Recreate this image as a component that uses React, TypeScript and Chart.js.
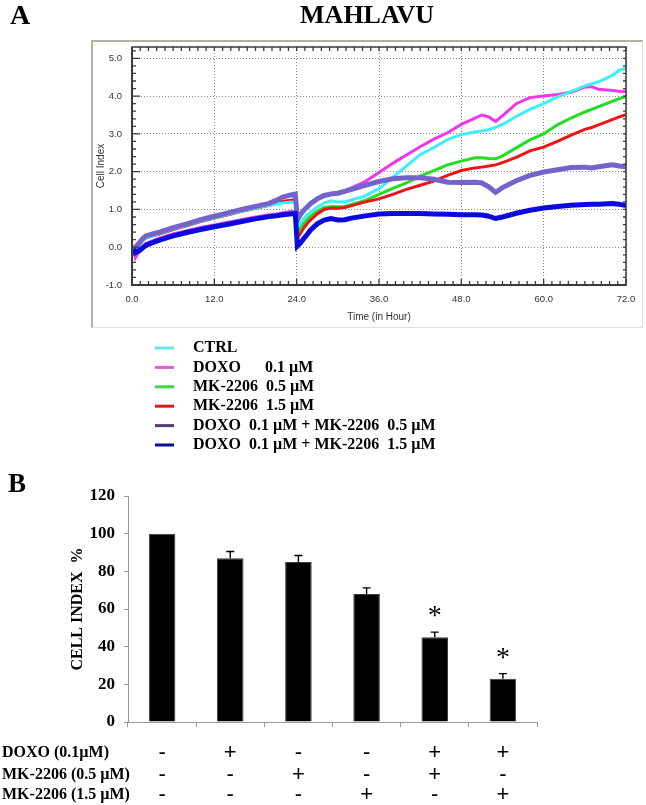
import React, { useEffect, useRef } from 'react';
import { Chart, registerables } from 'chart.js';

Chart.register(...registerables);

// ---------- Panel A data (xCELLigence real-time cell index) ----------
const TIME_H = [0.2, 0.5, 1, 1.5, 2, 3, 4, 6, 8, 10, 12, 14, 16, 18, 20, 21, 22, 23, 23.8, 24.1, 24.5, 25, 25.5, 26, 27, 28, 29, 30, 31, 32, 34, 36, 38, 40, 42, 44, 46, 48, 50, 51, 52, 53, 54, 56, 58, 60, 62, 64, 66, 67, 68, 70, 71, 72];

const CTRL = [-0.02, -0.05, 0.04, 0.16, 0.24, 0.3, 0.36, 0.48, 0.58, 0.69, 0.78, 0.87, 0.96, 1.04, 1.11, 1.14, 1.17, 1.19, 1.2, 0.5, 0.62, 0.75, 0.85, 0.93, 1.06, 1.17, 1.23, 1.2, 1.2, 1.25, 1.36, 1.55, 1.85, 2.15, 2.45, 2.64, 2.85, 2.98, 3.05, 3.08, 3.11, 3.17, 3.25, 3.46, 3.65, 3.8, 3.98, 4.12, 4.27, 4.32, 4.38, 4.55, 4.68, 4.74];
const DOXO_01 = [-0.05, -0.28, -0.12, 0.0, 0.1, 0.17, 0.24, 0.35, 0.44, 0.52, 0.59, 0.66, 0.73, 0.8, 0.86, 0.88, 0.91, 0.94, 0.95, 0.72, 0.85, 0.95, 1.05, 1.13, 1.26, 1.35, 1.4, 1.44, 1.5, 1.57, 1.74, 1.98, 2.22, 2.44, 2.66, 2.86, 3.03, 3.25, 3.42, 3.5, 3.45, 3.33, 3.48, 3.8, 3.96, 4.0, 4.04, 4.1, 4.24, 4.25, 4.18, 4.15, 4.13, 4.12];
const MK_05 = [-0.02, -0.06, 0.05, 0.17, 0.25, 0.31, 0.36, 0.48, 0.58, 0.69, 0.78, 0.87, 0.96, 1.04, 1.12, 1.17, 1.21, 1.24, 1.25, 0.38, 0.5, 0.62, 0.73, 0.82, 0.95, 1.05, 1.08, 1.07, 1.08, 1.13, 1.24, 1.4, 1.56, 1.7, 1.88, 2.03, 2.18, 2.28, 2.37, 2.37, 2.35, 2.34, 2.42, 2.63, 2.84, 3.0, 3.24, 3.42, 3.58, 3.65, 3.72, 3.86, 3.93, 3.99];
const MK_15 = [-0.03, -0.1, 0.03, 0.16, 0.24, 0.3, 0.35, 0.47, 0.57, 0.68, 0.77, 0.86, 0.95, 1.03, 1.11, 1.16, 1.21, 1.24, 1.26, 0.25, 0.35, 0.5, 0.62, 0.72, 0.88, 1.0, 1.04, 1.03, 1.05, 1.1, 1.2, 1.28, 1.4, 1.53, 1.64, 1.75, 1.9, 2.03, 2.1, 2.12, 2.15, 2.18, 2.24, 2.38, 2.55, 2.65, 2.8, 2.97, 3.12, 3.17, 3.24, 3.38, 3.45, 3.51];
const DOXO_MK_05 = [0.0, 0.0, 0.1, 0.22, 0.3, 0.35, 0.4, 0.52, 0.62, 0.73, 0.82, 0.91, 1.0, 1.08, 1.16, 1.24, 1.33, 1.38, 1.41, 0.72, 0.85, 0.97, 1.06, 1.15, 1.28, 1.37, 1.41, 1.43, 1.48, 1.53, 1.64, 1.74, 1.81, 1.84, 1.84, 1.8, 1.72, 1.71, 1.72, 1.7, 1.6, 1.45, 1.58, 1.76, 1.9, 1.99, 2.05, 2.11, 2.12, 2.1, 2.13, 2.18, 2.15, 2.13];
const DOXO_MK_15 = [-0.05, -0.14, -0.1, -0.03, 0.05, 0.12, 0.19, 0.3, 0.39, 0.47, 0.54, 0.61, 0.68, 0.75, 0.81, 0.83, 0.86, 0.88, 0.89, 0.03, 0.1, 0.22, 0.33, 0.45, 0.62, 0.72, 0.76, 0.72, 0.73, 0.77, 0.83, 0.88, 0.89, 0.89, 0.89, 0.88, 0.87, 0.86, 0.86, 0.85, 0.82, 0.76, 0.8, 0.9, 0.98, 1.04, 1.08, 1.11, 1.13, 1.14, 1.14, 1.16, 1.14, 1.1];

const LEGEND_LABELS = [
  'CTRL',
  'DOXO      0.1 µM',
  'MK-2206  0.5 µM',
  'MK-2206  1.5 µM',
  'DOXO  0.1 µM + MK-2206  0.5 µM',
  'DOXO  0.1 µM + MK-2206  1.5 µM',
];

const X_TICKS_H = [0, 12, 24, 36, 48, 60, 72];

// ---------- Panel B data ----------
const CONDITIONS = ['CTRL', 'DOXO', 'MK 0.5', 'MK 1.5', 'DOXO+MK 0.5', 'DOXO+MK 1.5'];
const CELL_INDEX_PCT = [100, 87, 85, 68, 45, 23];
const CELL_INDEX_ERR = [0, 3.5, 3.4, 3.2, 2.7, 2.7];
const SIGNIFICANT = [false, false, false, false, true, true];
const ROW_LABELS = ['DOXO (0.1µM)', 'MK-2206 (0.5 µM)', 'MK-2206 (1.5 µM)'];
const DOXO_SIGNS = ['-', '+', '-', '-', '+', '+'];
const MK05_SIGNS = ['-', '-', '+', '-', '+', '-'];
const MK15_SIGNS = ['-', '-', '-', '+', '-', '+'];

const SERIES = [CTRL, DOXO_01, MK_05, MK_15, DOXO_MK_05, DOXO_MK_15];
const LINE_COLORS = ['#3cf0f6', '#f036ec', '#22dd22', '#ee1414', '#7563cc', '#0a0ae0'];
const LEGEND_COLORS = ['#5ee8ee', '#e85ad0', '#3adb3a', '#d81a1a', '#553a77', '#0c0c96'];
const LINE_WIDTHS = [3, 3, 3, 3, 5, 5];
const DRAW_ORDER = [2, 5, 4, 3, 1, 0];

const SERIF = '"Liberation Serif", "Times New Roman", serif';
const SANS = '"Liberation Sans", Arial, sans-serif';

const panelAPlugin = {
  id: 'panelADecor',
  beforeDraw(chart: any) {
    const ctx = chart.ctx;
    ctx.save();
    ctx.fillStyle = '#ffffff';
    ctx.fillRect(0, 0, chart.width, chart.height);
    // software window frame
    ctx.strokeStyle = '#b2b2a4';
    ctx.lineWidth = 2;
    ctx.beginPath();
    ctx.moveTo(92, 328);
    ctx.lineTo(92, 41);
    ctx.lineTo(643, 41);
    ctx.stroke();
    ctx.strokeStyle = '#e2e2da';
    ctx.lineWidth = 1;
    ctx.beginPath();
    ctx.moveTo(642.5, 41);
    ctx.lineTo(642.5, 327.5);
    ctx.lineTo(92, 327.5);
    ctx.stroke();
    // titles
    ctx.fillStyle = '#000';
    ctx.textBaseline = 'middle';
    ctx.font = `bold 28px ${SERIF}`;
    ctx.textAlign = 'left';
    ctx.fillText('A', 10, 17);
    ctx.font = `bold 26px ${SERIF}`;
    ctx.textAlign = 'center';
    ctx.fillText('MAHLAVU', 367, 16);
    ctx.restore();
  },
  afterDraw(chart: any) {
    const ctx = chart.ctx;
    const { left, right, top, bottom } = chart.chartArea;
    const xs = chart.scales.x;
    const ys = chart.scales.y;
    ctx.save();
    // plot box
    ctx.strokeStyle = '#3a3a3a';
    ctx.lineWidth = 1.5;
    ctx.strokeRect(left, top, right - left, bottom - top);
    ctx.lineWidth = 2;
    ctx.beginPath();
    ctx.moveTo(left, top);
    ctx.lineTo(left, bottom);
    ctx.lineTo(right, bottom);
    ctx.stroke();
    // inward ticks
    ctx.lineWidth = 1.3;
    ctx.beginPath();
    for (let i = 0; i <= 60; i++) {
      const h = i * 1.2;
      const px = xs.getPixelForValue(h);
      const major = i % 10 === 0;
      const len = major ? 6 : 4;
      ctx.moveTo(px, bottom);
      ctx.lineTo(px, bottom - len);
      ctx.moveTo(px, top);
      ctx.lineTo(px, top + 4);
    }
    for (let i = 0; i <= 31; i++) {
      const v = -1 + i * 0.2;
      const py = ys.getPixelForValue(v);
      const major = i % 5 === 0;
      ctx.moveTo(left, py);
      ctx.lineTo(left + (major ? 8 : 4), py);
      ctx.moveTo(right, py);
      ctx.lineTo(right - 3, py);
    }
    ctx.stroke();
    // legend
    ctx.font = `bold 16px ${SERIF}`;
    ctx.textAlign = 'left';
    ctx.textBaseline = 'middle';
    LEGEND_LABELS.forEach((lab, i) => {
      const y = 348 + i * 19.4;
      ctx.strokeStyle = LEGEND_COLORS[i];
      ctx.lineWidth = 3;
      ctx.beginPath();
      ctx.moveTo(155, y);
      ctx.lineTo(174, y);
      ctx.stroke();
      ctx.fillStyle = '#000';
      ctx.fillText(lab, 193, y);
    });
    ctx.restore();
  },
};

const panelBPlugin = {
  id: 'panelBDecor',
  beforeDraw(chart: any) {
    const ctx = chart.ctx;
    ctx.save();
    ctx.fillStyle = '#ffffff';
    ctx.fillRect(0, 0, chart.width, chart.height);
    ctx.restore();
  },
  afterDatasetsDraw(chart: any) {
    const ctx = chart.ctx;
    const xs = chart.scales.x;
    const ys = chart.scales.y;
    ctx.save();
    ctx.strokeStyle = '#000';
    ctx.lineWidth = 1.4;
    CELL_INDEX_PCT.forEach((v, i) => {
      const e = CELL_INDEX_ERR[i];
      const px = xs.getPixelForValue(i);
      if (e > 0) {
        const y0 = ys.getPixelForValue(v);
        const y1 = ys.getPixelForValue(v + e);
        ctx.beginPath();
        ctx.moveTo(px, y0);
        ctx.lineTo(px, y1);
        ctx.moveTo(px - 4, y1);
        ctx.lineTo(px + 4, y1);
        ctx.stroke();
      }
      if (SIGNIFICANT[i]) {
        const yc = ys.getPixelForValue(v + e);
        ctx.fillStyle = '#000';
        ctx.font = `28px ${SERIF}`;
        ctx.textAlign = 'center';
        ctx.textBaseline = 'alphabetic';
        ctx.fillText('*', px, yc - 8);
      }
    });
    ctx.restore();
  },
  afterDraw(chart: any) {
    const ctx = chart.ctx;
    const xs = chart.scales.x;
    ctx.save();
    ctx.fillStyle = '#000';
    ctx.textBaseline = 'middle';
    ctx.font = `bold 27px ${SERIF}`;
    ctx.textAlign = 'left';
    ctx.fillText('B', 8, 20);
    const rowsY = [288, 310, 330];
    const rows = [DOXO_SIGNS, MK05_SIGNS, MK15_SIGNS];
    rows.forEach((signs, r) => {
      ctx.font = `bold 16px ${SERIF}`;
      ctx.textAlign = 'left';
      ctx.fillText(ROW_LABELS[r], 2, rowsY[r]);
      ctx.font = `22px ${SANS}`;
      ctx.textAlign = 'center';
      signs.forEach((s, i) => {
        ctx.fillText(s, xs.getPixelForValue(i), rowsY[r]);
      });
    });
    ctx.restore();
  },
};

export default function App() {
  const refA = useRef<HTMLCanvasElement | null>(null);
  const refB = useRef<HTMLCanvasElement | null>(null);

  useEffect(() => {
    if (!refA.current || !refB.current) return;
    const chartA = new Chart(refA.current, {
      type: 'line',
      data: {
        datasets: SERIES.map((vals, k) => ({
          label: LEGEND_LABELS[k],
          data: TIME_H.map((t, i) => ({ x: t, y: vals[i] })),
          borderColor: LINE_COLORS[k],
          backgroundColor: LINE_COLORS[k],
          borderWidth: LINE_WIDTHS[k],
          pointRadius: 0,
          tension: 0,
          fill: false,
          order: DRAW_ORDER[k],
        })),
      },
      options: {
        responsive: false,
        animation: false,
        layout: { padding: { left: 0, top: 47, right: 20, bottom: 140 } },
        plugins: { legend: { display: false }, tooltip: { enabled: false }, title: { display: false } },
        scales: {
          x: {
            type: 'linear',
            min: 0,
            max: 72,
            afterBuildTicks: (s: any) => {
              s.ticks = X_TICKS_H.map((v) => ({ value: v }));
            },
            ticks: {
              callback: (v: any) => Number(v).toFixed(1),
              font: { family: SANS, size: 9.5 },
              color: '#333',
              padding: 9,
              maxRotation: 0,
              autoSkip: false,
            },
            grid: { color: '#8a8a8a', lineWidth: 1, drawTicks: false },
            border: { display: false, dash: [1, 2] },
            title: {
              display: true,
              text: 'Time (in Hour)',
              font: { family: SANS, size: 10 },
              color: '#333',
              padding: { top: 0, bottom: 2 },
            },
            afterFit: (s: any) => {
              s.height = 40;
            },
          },
          y: {
            type: 'linear',
            min: -1,
            max: 5.3,
            afterBuildTicks: (s: any) => {
              s.ticks = s.ticks.filter((t: any) => Math.abs(t.value - Math.round(t.value)) < 1e-6);
            },
            ticks: {
              stepSize: 1,
              callback: (v: any) => Number(v).toFixed(1),
              font: { family: SANS, size: 9.5 },
              color: '#333',
              padding: 10,
            },
            grid: { color: '#8a8a8a', lineWidth: 1, drawTicks: false },
            border: { display: false, dash: [1, 2] },
            title: {
              display: true,
              text: 'Cell Index',
              font: { family: SANS, size: 10 },
              color: '#333',
              padding: { top: 95, bottom: 0 },
            },
            afterFit: (s: any) => {
              s.width = 132;
            },
          },
        },
      } as any,
      plugins: [panelAPlugin],
    });

    const chartB = new Chart(refB.current, {
      type: 'bar',
      data: {
        labels: CONDITIONS,
        datasets: [
          {
            data: CELL_INDEX_PCT,
            backgroundColor: '#000000',
            borderColor: '#3c3c3c',
            borderWidth: 1,
            barPercentage: 0.39,
            categoryPercentage: 1,
          },
        ],
      },
      options: {
        responsive: false,
        animation: false,
        layout: { padding: { left: 0, top: 31, right: 109, bottom: 0 } },
        plugins: { legend: { display: false }, tooltip: { enabled: false } },
        scales: {
          x: {
            ticks: { display: false },
            grid: { offset: true, drawOnChartArea: false, drawTicks: true, tickLength: 5, color: '#9a9a9a', tickColor: '#9a9a9a' },
            border: { color: '#9a9a9a', width: 1 },
            afterFit: (s: any) => {
              s.height = 83;
            },
          },
          y: {
            min: 0,
            max: 120,
            ticks: {
              stepSize: 20,
              font: { family: SERIF, size: 17, weight: 'bold' },
              color: '#000',
              padding: 9,
            },
            grid: { drawOnChartArea: false, drawTicks: true, tickLength: 4, color: '#9a9a9a', tickColor: '#9a9a9a' },
            border: { color: '#9a9a9a', width: 1 },
            title: {
              display: true,
              text: 'CELL INDEX  %',
              font: { family: SERIF, size: 16, weight: 'bold' },
              color: '#000',
              padding: { top: 68, bottom: 0 },
            },
            afterFit: (s: any) => {
              s.width = 128;
            },
          },
        },
      } as any,
      plugins: [panelBPlugin],
    });

    return () => {
      chartA.destroy();
      chartB.destroy();
    };
  }, []);

  return (
    <div style={{ position: 'absolute', left: 0, top: 0, width: 646, height: 805, background: '#fff' }}>
      <canvas ref={refA} width={646} height={465} style={{ position: 'absolute', left: 0, top: 0, width: 646, height: 465 }} />
      <canvas ref={refB} width={646} height={340} style={{ position: 'absolute', left: 0, top: 465, width: 646, height: 340 }} />
    </div>
  );
}
